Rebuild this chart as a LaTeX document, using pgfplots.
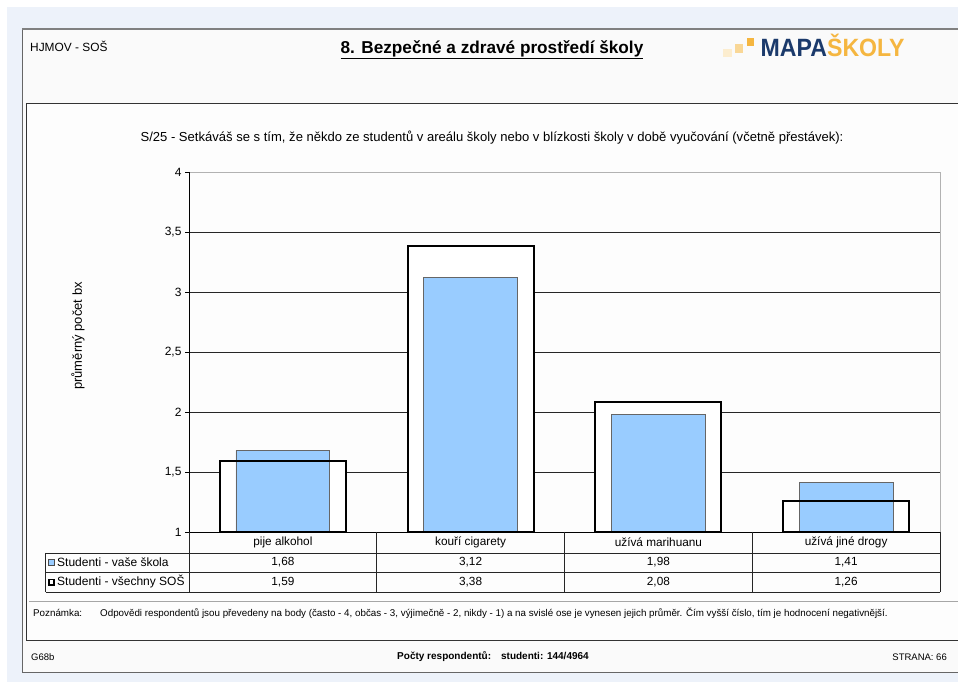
\documentclass[border=0pt]{standalone}
\usepackage{pgfplots}
\pgfplotsset{compat=1.18}
\usepackage{fontspec}
\setmainfont{Liberation Sans}
\definecolor{outerblue}{HTML}{EDF2FA}
\definecolor{pagebg}{HTML}{FAFAFA}
\definecolor{barblue}{HTML}{99CCFF}
\definecolor{navy}{HTML}{1B3A6B}
\definecolor{logoorange}{HTML}{F5B640}
\newcommand{\fs}[1]{\fontsize{#1}{#1}\selectfont}

\pgfplotstableread{
x vase vsechny
0 1.68 1.59
1 3.12 3.38
2 1.98 2.08
3 1.41 1.26
}\datatable

\begin{document}
\begin{tikzpicture}[x=1pt,y=1pt]
\useasboundingbox (0,0) rectangle (958,682);
\fill[white] (0,0) rectangle (958,682);
\fill[outerblue] (7,0) rectangle (958,675);
% page
\fill[pagebg] (22,10) rectangle (958,653);
\draw[gray!80!black, line width=0.8] (958,10) -- (22,10) -- (22,653);
\draw[gray, line width=2] (22,653) -- (958,653);
% inner box
\fill[white!60!pagebg] (26,42) rectangle (958,579);
\draw[black!80, line width=0.8] (958,42) -- (26,42) -- (26,579) -- (958,579);
% header
\node[anchor=west, inner sep=0, font=\fs{11.9}] at (30,636) {HJMOV - SOŠ};
\node[font=\bfseries\fs{17.2}] at (492,632) {\underline{8. Bezpečné a zdravé prostředí školy}};
% logo
\fill[logoorange!25] (722.7,624.7) rectangle (731.7,632.7);
\fill[logoorange!55] (734.7,629.3) rectangle (743.3,638);
\fill[logoorange] (746.7,636) rectangle (754,643.7);
\node[anchor=base west, inner sep=0] at (760.5,625.3) {\scalebox{0.925}[1]{\bfseries\fs{25}\textcolor{navy}{MAPA}\textcolor{logoorange}{ŠKOLY}}};
% question
\node[font=\fs{13.05}] at (492,544) {S/25 - Setkáváš se s tím, že někdo ze studentů v areálu školy nebo v blízkosti školy v době vyučování (včetně přestávek):};
\node[rotate=90, font=\fs{13}] at (78,346) {průměrný počet bx};

\begin{axis}[
  at={(189pt,150pt)}, anchor=south west,
  scale only axis, width=751pt, height=360pt,
  xmin=-0.5, xmax=3.5, ymin=1, ymax=4,
  ytick={1,1.5,2,2.5,3,3.5,4}, xtick=\empty,
  ymajorgrids, grid style={black!85, line width=0.8pt},
  axis line style={gray!60, line width=0.8pt},
  ytick pos=left, tick align=outside, major tick length=4pt,
  tick style={black, line width=0.8pt},
  yticklabel style={font=\fs{12}},
  /pgf/number format/.cd, use comma, assume math mode=true,
]
\addplot[ybar, bar width=0.671, bar shift=0pt, fill=white, draw=none] table[x=x, y=vsechny] {\datatable};
\addplot[ybar, bar width=0.5, bar shift=0pt, fill=barblue, draw=black!60, line width=0.8pt] table[x=x, y=vase] {\datatable};
\addplot[ybar, bar width=0.671, bar shift=0pt, fill=none, draw=black, line width=2pt] table[x=x, y=vsechny] {\datatable};
\end{axis}

% axis frame left/bottom
\draw[black, line width=0.8] (189,510) -- (189,150) -- (940,150);
% data table
\begin{scope}[black!85, line width=0.8]
\draw (45.7,129) -- (940,129);
\draw (45.7,110) -- (940,110);
\draw (45.7,90) -- (940,90);
\draw (45.7,129) -- (45.7,90);
\foreach \xx in {189,376.75,564.5,752.25,940} \draw (\xx,150) -- (\xx,90);
\end{scope}
\begin{scope}[font=\fs{11.8}]
\node at (282.9,139.5) {pije alkohol};
\node at (470.6,139.5) {kouří cigarety};
\node at (658.4,139.5) {užívá marihuanu};
\node at (846.1,139.5) {užívá jiné drogy};
\node at (282.9,119.5) {1,68};
\node at (470.6,119.5) {3,12};
\node at (658.4,119.5) {1,98};
\node at (846.1,119.5) {1,41};
\node at (282.9,100) {1,59};
\node at (470.6,100) {3,38};
\node at (658.4,100) {2,08};
\node at (846.1,100) {1,26};
\fill[barblue, draw=black!70, line width=0.8] (48.7,116.8) rectangle (54,122.1);
\draw[black, line width=1.5] (49,97.2) rectangle (54,102.4);
\end{scope}
\begin{scope}[font=\fs{12}]
\node[anchor=west, inner sep=0] at (57,119.5) {Studenti - vaše škola};
\node[anchor=west, inner sep=0] at (57,100) {Studenti - všechny SOŠ};
\end{scope}
% note
\draw[gray!70, line width=0.8] (29,81) -- (958,81);
\node[anchor=west, inner sep=0, font=\fs{9.8}] at (33,69) {Poznámka:};
\node[anchor=west, inner sep=0, font=\fs{9.8}] at (100,69) {Odpovědi respondentů jsou převedeny na body (často - 4, občas - 3, výjimečně - 2, nikdy - 1) a na svislé ose je vynesen jejich průměr. Čím vyšší číslo, tím je hodnocení negativnější.};
% footer
\node[anchor=west, inner sep=0, font=\fs{9.5}] at (31,25) {G68b};
\node[font=\bfseries\fs{10}] at (493,25) {Počty respondentů:\quad studenti: 144/4964};
\node[anchor=east, inner sep=0, font=\fs{9.5}] at (947,25) {STRANA: 66};
\end{tikzpicture}
\end{document}
